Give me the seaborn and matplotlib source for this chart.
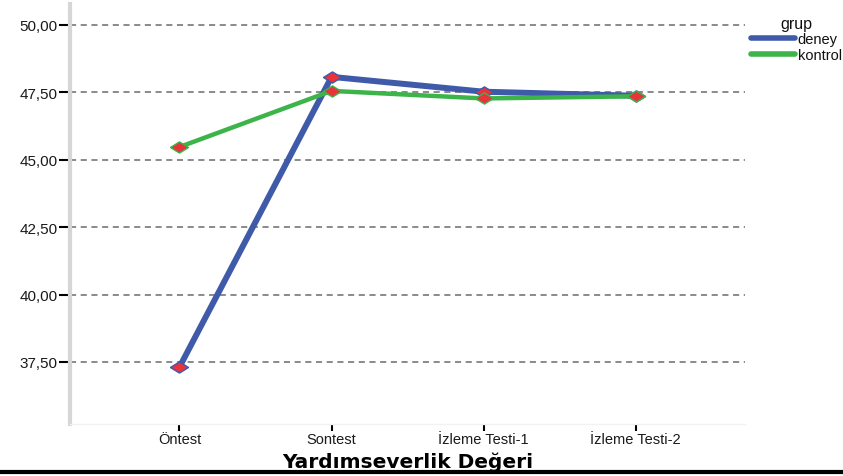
import matplotlib
matplotlib.use("Agg")
import matplotlib.pyplot as plt
import matplotlib.ticker as mticker
import pandas as pd
import seaborn as sns

# values
olcumler = ["Öntest", "Sontest", "İzleme Testi-1", "İzleme Testi-2"]
deney = [37.31, 48.07, 47.52, 47.37]
kontrol = [45.47, 47.55, 47.27, 47.35]
gruplar = ["deney", "kontrol"]
y_ticks = [37.5, 40.0, 42.5, 45.0, 47.5, 50.0]

df = pd.DataFrame({
    "olcum": olcumler * 2,
    "deger": deney + kontrol,
    "grup": ["deney"] * len(deney) + ["kontrol"] * len(kontrol),
})

sns.set_style("white")
plt.rcParams["font.family"] = ["Liberation Sans", "DejaVu Sans"]
plt.rcParams["text.color"] = "#111111"

fig = plt.figure(figsize=(8.43, 4.77), dpi=100)
ax = fig.add_axes([0.083, 0.109, 0.801, 0.881])

# flattened diamond like the original marker
diamond = [(-1, 0), (0, 0.62), (1, 0), (0, -0.62), (-1, 0)]

palette = {"deney": "#3f5aa9", "kontrol": "#3cb44a"}
for g, lw in zip(gruplar, [4.3, 3.2]):
    sub = df[df["grup"] == g]
    sns.lineplot(data=sub, x="olcum", y="deger", color=palette[g], linewidth=lw,
                 marker=diamond, markersize=13, markerfacecolor="#e8333c",
                 markeredgecolor=palette[g], markeredgewidth=1.0,
                 sort=False, label=g, ax=ax)

ax.set_ylim(35.2, 50.78)
ax.set_xlim(-0.72, 3.72)
ax.set_yticks(y_ticks)
ax.yaxis.set_major_formatter(mticker.FuncFormatter(lambda v, p: f"{v:.2f}".replace(".", ",")))
for t in y_ticks:
    ax.axhline(t, color="#6b6b6b", linestyle=(0, (4, 3)), linewidth=1.1, zorder=0)

for s in ["top", "right"]:
    ax.spines[s].set_visible(False)
ax.spines["left"].set_color("#d6d6d6")
ax.spines["left"].set_linewidth(3)
ax.spines["bottom"].set_color("#f2f2f2")
ax.spines["bottom"].set_linewidth(1)
ax.tick_params(axis="y", which="major", direction="out", length=8, width=1.5,
               color="black", labelcolor="#1a1a1a", labelsize=11, pad=1, left=True)
ax.tick_params(axis="x", which="major", direction="out", length=5, width=1.5,
               color="black", labelcolor="#1a1a1a", labelsize=10.5, pad=1, bottom=True)

ax.set_ylabel("")
ax.set_xlabel("Yardımseverlik Değeri", fontsize=14.5, fontweight="bold",
              family="DejaVu Sans", color="black", labelpad=4)

leg = ax.legend(title="grup", loc="upper left", bbox_to_anchor=(1.0, 0.985),
                frameon=False, fontsize=10.5, title_fontsize=11.5,
                handlelength=3.0, handletextpad=0.2, labelspacing=0.1,
                borderaxespad=0.3, borderpad=0.1)
for line in leg.get_lines():
    line.set_marker("")
    line.set_linewidth(4)

fig.add_artist(plt.Line2D([0, 1], [0.008, 0.008], color="black", linewidth=3,
                          transform=fig.transFigure))

fig.savefig("out.png", dpi=100)
